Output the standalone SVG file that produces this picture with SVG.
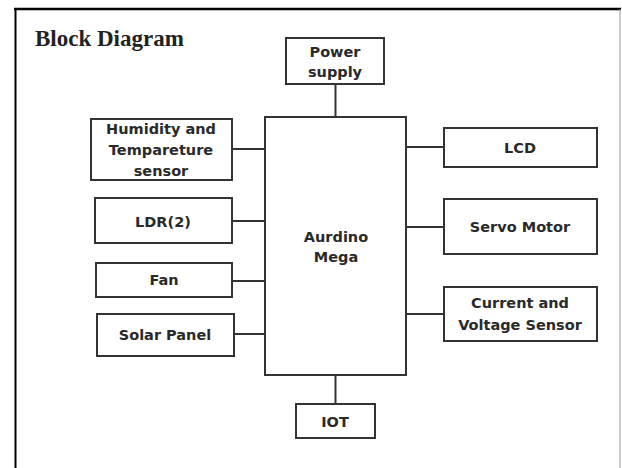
<svg xmlns="http://www.w3.org/2000/svg" width="622" height="468" viewBox="0 0 622 468">
<style>
.box{fill:#fff;stroke:#333;stroke-width:2}
.lbl{font-family:"DejaVu Sans",sans-serif;font-weight:bold;font-size:14.5px;fill:#2a2a2a;text-anchor:middle}
.wire{stroke:#333;stroke-width:2;fill:none}
</style>
<rect width="622" height="468" fill="#fff"/>
<g id="frame">
<line x1="14" y1="9" x2="621" y2="9" stroke="#000" stroke-width="2.5"/>
<line x1="15.5" y1="8" x2="15.5" y2="468" stroke="#000" stroke-width="2"/>
<line x1="620" y1="9" x2="620" y2="468" stroke="#999" stroke-width="1"/>
</g>
<text id="title" x="35" y="46" font-family="Liberation Serif,serif" font-weight="bold" font-size="23" fill="#222">Block Diagram</text>
<g id="connectors">
<line class="wire" x1="335.5" y1="84" x2="335.5" y2="117"/>
<line class="wire" x1="335.5" y1="375" x2="335.5" y2="404"/>
<line class="wire" x1="232" y1="149" x2="265" y2="149"/>
<line class="wire" x1="232" y1="221" x2="265" y2="221"/>
<line class="wire" x1="232" y1="281" x2="265" y2="281"/>
<line class="wire" x1="234" y1="334" x2="265" y2="334"/>
<line class="wire" x1="406" y1="147" x2="444" y2="147"/>
<line class="wire" x1="406" y1="227" x2="444" y2="227"/>
<line class="wire" x1="406" y1="314" x2="444" y2="314"/>
</g>
<g id="power">
<rect class="box" x="286" y="38" width="98" height="46"/>
<text class="lbl" x="335" y="57">Power</text>
<text class="lbl" x="335" y="77">supply</text>
</g>
<g id="arduino">
<rect class="box" x="265" y="117" width="141" height="258"/>
<text class="lbl" x="336" y="242">Aurdino</text>
<text class="lbl" x="336" y="262">Mega</text>
</g>
<g id="humidity">
<rect class="box" x="91" y="119" width="141" height="61"/>
<text class="lbl" x="161" y="134">Humidity and</text>
<text class="lbl" x="161" y="155">Tempareture</text>
<text class="lbl" x="161" y="176">sensor</text>
</g>
<g id="ldr">
<rect class="box" x="95" y="198" width="137" height="45"/>
<text class="lbl" x="163" y="227">LDR(2)</text>
</g>
<g id="fan">
<rect class="box" x="96" y="263" width="136" height="34"/>
<text class="lbl" x="164" y="285">Fan</text>
</g>
<g id="solar">
<rect class="box" x="97" y="314" width="137" height="42"/>
<text class="lbl" x="165" y="340">Solar Panel</text>
</g>
<g id="lcd">
<rect class="box" x="444" y="128" width="153" height="39"/>
<text class="lbl" x="520" y="153">LCD</text>
</g>
<g id="servo">
<rect class="box" x="444" y="199" width="153" height="55"/>
<text class="lbl" x="520" y="232">Servo Motor</text>
</g>
<g id="sensor">
<rect class="box" x="444" y="287" width="153" height="54"/>
<text class="lbl" x="520" y="308">Current and</text>
<text class="lbl" x="520" y="330">Voltage Sensor</text>
</g>
<g id="iot">
<rect class="box" x="296" y="404" width="79" height="34"/>
<text class="lbl" x="335" y="427">IOT</text>
</g>
</svg>
